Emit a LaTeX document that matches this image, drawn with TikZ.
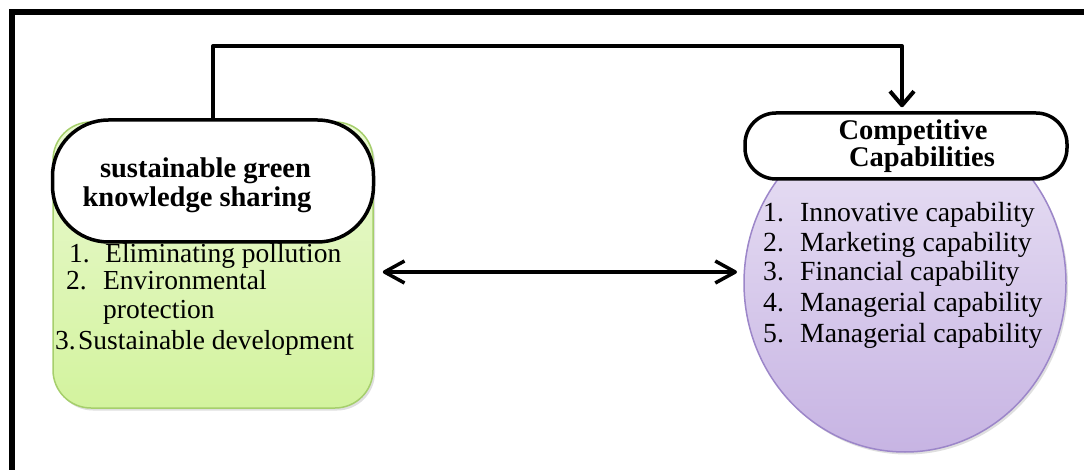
\documentclass[tikz,border=0pt]{standalone}
\usepackage{fontspec}
\setmainfont{Liberation Serif}
\usetikzlibrary{arrows.meta,shadows,calc,shapes.geometric}
\definecolor{gtop}{HTML}{EAF9D2}
\definecolor{gbot}{HTML}{D3F39E}
\definecolor{gedge}{HTML}{A6CF6C}
\definecolor{ptop}{HTML}{EAE3F5}
\definecolor{pbot}{HTML}{C7B4E3}
\definecolor{pedge}{HTML}{9C86C9}
\begin{document}
\begin{tikzpicture}[x=1pt,y=-1pt,
  frameline/.style={line width=6pt,line cap=rect},
  greenbox/.style={draw=gedge,line width=1.5pt,top color=gtop,bottom color=gbot,
    rounded corners=38pt,inner sep=0pt,
    drop shadow={shadow xshift=2pt,shadow yshift=-2.5pt,opacity=0.25}},
  purpleell/.style={ellipse,draw=pedge,line width=1.5pt,top color=ptop,bottom color=pbot,
    inner sep=0pt,
    drop shadow={shadow xshift=2pt,shadow yshift=-2.5pt,opacity=0.25}},
  whitecap/.style={draw=black,line width=3.5pt,fill=white,inner sep=0pt},
  titletext/.style={font=\fontsize{28.5}{28}\selectfont\bfseries,inner sep=0pt,anchor=base},
  lefttext/.style={font=\fontsize{27.5}{28}\selectfont,inner sep=0pt,anchor=base west},
  righttext/.style={font=\fontsize{27.7}{28}\selectfont,inner sep=0pt,anchor=base west},
  conn/.style={line width=4pt,line join=round,-{Straight Barb[length=14pt,width=24pt,line join=round]}},
  dblconn/.style={line width=3.5pt,line join=round,
    {Straight Barb[length=20pt,width=22pt,line join=round]}-{Straight Barb[length=20pt,width=22pt,line join=round]}}
]
\useasboundingbox (0,0) rectangle (1084,470);
\clip (0,0) rectangle (1084,470);
\fill[white] (0,0) rectangle (1084,470);
% outer frame
\draw[frameline] (12,490) -- (12,12.5) -- (1100,12.5);

% left green box and cap
\node[greenbox,minimum width=320pt,minimum height=286pt] (gbox) at (213,265) {};
\node[whitecap,rounded corners=56pt,minimum width=321pt,minimum height=122pt] (gk) at (213,181) {};
\node[titletext] (gt1) at (205.5,178) {sustainable green};
\node[titletext] (gt2) at (197,207) {knowledge sharing};
\node[lefttext] (l1) at (69,263) {\makebox[36pt][l]{1.}Eliminating pollution};
\node[lefttext] (l2) at (66,290) {\makebox[37pt][l]{2.}Environmental};
\node[lefttext] (l3) at (103,318) {protection};
\node[lefttext] (l4) at (55,349) {\makebox[23pt][l]{3.}Sustainable development};

% right purple ellipse and cap
\node[purpleell,minimum width=322pt,minimum height=338pt] (ell) at (905,283) {};
\node[whitecap,rounded corners=31pt,minimum width=322pt,minimum height=66pt] (cc) at (906,146) {};
\node[titletext] (ct1) at (913,140) {Competitive};
\node[titletext] (ct2) at (922,167) {Capabilities};
\node[righttext] (r1) at (763,222) {\makebox[37pt][l]{1.}Innovative capability};
\node[righttext] (r2) at (763,252) {\makebox[37pt][l]{2.}Marketing capability};
\node[righttext] (r3) at (763,281) {\makebox[37pt][l]{3.}Financial capability};
\node[righttext] (r4) at (763,312) {\makebox[37pt][l]{4.}Managerial capability};
\node[righttext] (r5) at (763,342) {\makebox[37pt][l]{5.}Managerial capability};

% connectors
\coordinate (tl) at (213,46);
\coordinate (tr) at (902,46);
\draw[conn,shorten >=4pt] (gk.north) -- (tl) -- (tr) -- (tr |- cc.north);
\coordinate (ar) at (745,272);
\draw[dblconn,shorten <=9pt,shorten >=8pt] (gbox.east |- ar) -- (ar);
\end{tikzpicture}
\end{document}
